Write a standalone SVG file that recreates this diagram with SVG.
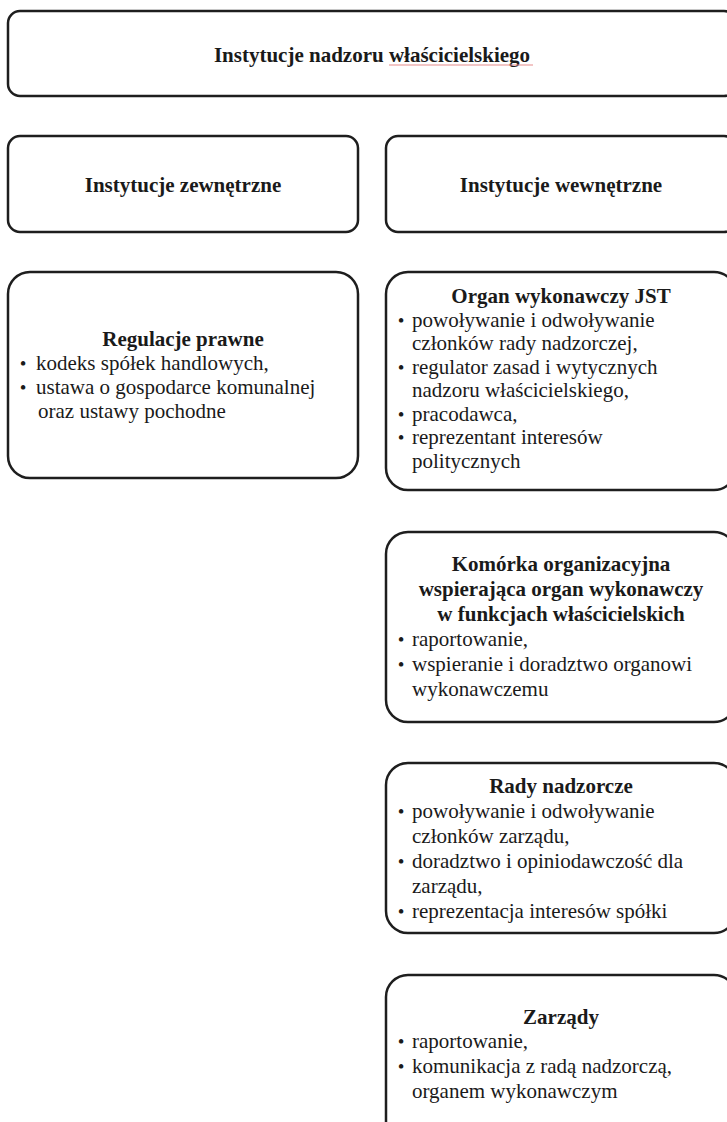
<svg xmlns="http://www.w3.org/2000/svg" width="727" height="1122" viewBox="0 0 727 1122">
<style>
.bg{fill:#ffffff}
.box{fill:#ffffff;stroke:#1e1e1e;stroke-width:2.5}
.t{font-family:"Liberation Serif","Times New Roman",serif;font-size:21px;fill:#1a1a1a}
.h{font-weight:bold;text-anchor:middle}
.d{font-family:"Liberation Serif","Times New Roman",serif;font-size:19px;fill:#1a1a1a;text-anchor:middle}
.spell{stroke:#e58b8b;stroke-width:1}
</style>
<rect class="bg" x="0" y="0" width="727" height="1122"/>
<g id="connectors"></g>

<g id="node-root">
  <rect class="box" x="8" y="11" width="728" height="85" rx="12"/>
  <text class="t h" x="372" y="62">Instytucje nadzoru właścicielskiego</text>
  <line class="spell" x1="389" y1="65" x2="533" y2="65"/>
</g>

<g id="node-external">
  <rect class="box" x="8" y="136" width="350" height="96" rx="12"/>
  <text class="t h" x="183" y="192">Instytucje zewnętrzne</text>
</g>

<g id="node-internal">
  <rect class="box" x="386" y="136" width="350" height="96" rx="12"/>
  <text class="t h" x="561" y="192">Instytucje wewnętrzne</text>
</g>

<g id="node-regulacje">
  <rect class="box" x="8" y="272" width="350" height="206" rx="22"/>
  <text class="t h" x="183" y="346">Regulacje prawne</text>
  <text class="d" x="23" y="370">•</text>
  <text class="t" x="36" y="370">kodeks spółek handlowych,</text>
  <text class="d" x="23" y="394">•</text>
  <text class="t" x="36" y="394">ustawa o gospodarce komunalnej</text>
  <text class="t" x="38" y="418">oraz ustawy pochodne</text>
</g>

<g id="node-organ">
  <rect class="box" x="386" y="272" width="350" height="218" rx="22"/>
  <text class="t h" x="561" y="303">Organ wykonawczy JST</text>
  <text class="d" x="401" y="327">•</text>
  <text class="t" x="412" y="327">powoływanie i odwoływanie</text>
  <text class="t" x="412" y="350">członków rady nadzorczej,</text>
  <text class="d" x="401" y="374">•</text>
  <text class="t" x="412" y="374">regulator zasad i wytycznych</text>
  <text class="t" x="412" y="397">nadzoru właścicielskiego,</text>
  <text class="d" x="401" y="421">•</text>
  <text class="t" x="412" y="421">pracodawca,</text>
  <text class="d" x="401" y="444">•</text>
  <text class="t" x="412" y="444">reprezentant interesów</text>
  <text class="t" x="412" y="468">politycznych</text>
</g>

<g id="node-komorka">
  <rect class="box" x="386" y="532" width="350" height="190" rx="22"/>
  <text class="t h" x="561" y="571">Komórka organizacyjna</text>
  <text class="t h" x="561" y="596">wspierająca organ wykonawczy</text>
  <text class="t h" x="561" y="621">w funkcjach właścicielskich</text>
  <text class="d" x="401" y="646">•</text>
  <text class="t" x="412" y="646">raportowanie,</text>
  <text class="d" x="401" y="671">•</text>
  <text class="t" x="412" y="671">wspieranie i doradztwo organowi</text>
  <text class="t" x="412" y="696">wykonawczemu</text>
</g>

<g id="node-rady">
  <rect class="box" x="386" y="763" width="350" height="170" rx="22"/>
  <text class="t h" x="561" y="793">Rady nadzorcze</text>
  <text class="d" x="401" y="818">•</text>
  <text class="t" x="412" y="818">powoływanie i odwoływanie</text>
  <text class="t" x="412" y="843">członków zarządu,</text>
  <text class="d" x="401" y="868">•</text>
  <text class="t" x="412" y="868">doradztwo i opiniodawczość dla</text>
  <text class="t" x="412" y="893">zarządu,</text>
  <text class="d" x="401" y="918">•</text>
  <text class="t" x="412" y="918">reprezentacja interesów spółki</text>
</g>

<g id="node-zarzady">
  <rect class="box" x="386" y="975" width="350" height="170" rx="22"/>
  <text class="t h" x="561" y="1024">Zarządy</text>
  <text class="d" x="401" y="1048">•</text>
  <text class="t" x="412" y="1048">raportowanie,</text>
  <text class="d" x="401" y="1073">•</text>
  <text class="t" x="412" y="1073">komunikacja z radą nadzorczą,</text>
  <text class="t" x="412" y="1098">organem wykonawczym</text>
</g>
</svg>
